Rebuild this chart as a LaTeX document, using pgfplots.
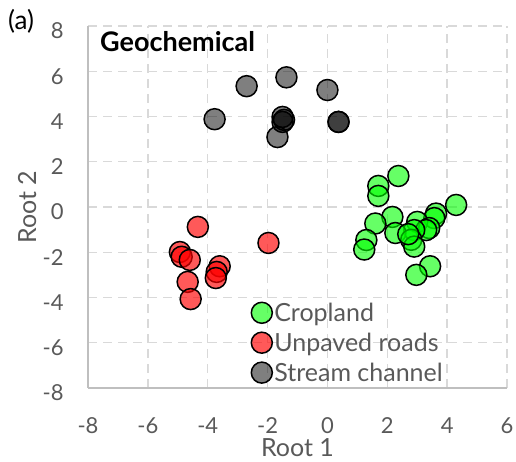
\documentclass[border=0pt]{standalone}
\usepackage{pgfplots}
\pgfplotsset{compat=1.18}
\usepackage{fontspec}
\setmainfont{Lato}
\definecolor{txtgray}{RGB}{89,89,89}
\definecolor{axgray}{RGB}{191,191,191}
\definecolor{gridgray}{RGB}{217,217,217}
\definecolor{cropgreen}{RGB}{0,255,0}
\definecolor{roadred}{RGB}{255,0,0}
\definecolor{streamgray}{RGB}{0,0,0}
\begin{document}
\begin{tikzpicture}
\useasboundingbox (0,0) rectangle (516pt,462pt);
\begin{axis}[
    at={(88pt,74pt)}, anchor=south west,
    width=419pt, height=362pt, scale only axis,
    xmin=-8, xmax=6, ymin=-8, ymax=8,
    xtick={-8,-6,...,6}, ytick={-8,-6,...,8},
    axis lines=left,
    axis line style={draw=axgray, line width=1.5pt, -},
    grid=major,
    grid style={draw=gridgray, dash pattern=on 9pt off 6pt, line width=1.4pt},
    tick style={draw=none},
    /pgf/number format/assume math mode=true,
    ticklabel style={font=\fontsize{22}{24}\selectfont, text=txtgray, inner sep=0pt},
    xticklabel style={anchor=base, yshift=-43pt},
    yticklabel style={anchor=east, xshift=-22pt, yshift=-5pt},
    xlabel={Root 1}, ylabel={Root 2},
    label style={font=\fontsize{25}{28}\selectfont, text=txtgray, inner sep=0pt},
    xlabel style={at={([yshift=-69pt]axis description cs:0.5,0)}, anchor=base},
    ylabel style={at={([xshift=-52pt]axis description cs:0,0.5)}, anchor=base},
    every axis plot/.append style={only marks, mark=*, mark size=10.5pt},
    legend style={draw=none, fill=none, font=\fontsize{25}{28}\selectfont,
        text=txtgray, at={(axis cs:-2.65,-4.05)}, anchor=north west,
        row sep=6pt, cells={anchor=west}},
    clip=false,
]
% Cropland
\addplot[mark options={draw=black, line width=1.5pt, fill=cropgreen, fill opacity=0.6}] coordinates {
(2.37,1.37) (1.7,0.93) (1.7,0.49) (4.3,0.09) (3.63,-0.29) (3.57,-0.49)
(2.17,-0.44) (1.6,-0.73) (3.0,-0.66) (3.4,-0.93) (3.3,-1.02) (2.9,-1.02)
(2.27,-1.15) (2.8,-1.45) (2.9,-1.75) (1.3,-1.46) (1.23,-1.88) (3.43,-2.62)
(2.97,-3.0) (2.7,-1.2)
};
\addlegendentry{Cropland}
% Unpaved roads
\addplot[mark options={draw=black, line width=1.5pt, fill=roadred, fill opacity=0.65}] coordinates {
(-4.33,-0.88) (-1.97,-1.59) (-4.93,-1.99) (-4.87,-2.2) (-4.6,-2.34)
(-3.6,-2.62) (-3.7,-2.87) (-3.73,-3.14) (-4.67,-3.31) (-4.57,-4.07)
};
\addlegendentry{Unpaved roads}
% Stream channel
\addplot[mark options={draw=black, line width=1.5pt, fill=streamgray, fill opacity=0.5}] coordinates {
(-2.7,5.34) (-1.37,5.73) (0.0,5.17) (-3.77,3.88) (-1.5,3.98) (-1.5,3.76)
(-1.45,3.85) (-1.67,3.09) (0.37,3.76) (0.37,3.76)
};
\addlegendentry{Stream channel}
\node[anchor=north west, inner sep=0pt, font=\fontsize{27}{30}\bfseries]
    at (axis cs:-7.6,7.75) {Geochemical};
\end{axis}
\node[anchor=base west, inner sep=0pt, font=\fontsize{26}{30}\selectfont]
    at (8pt,432pt) {(a)};
\end{tikzpicture}
\end{document}
